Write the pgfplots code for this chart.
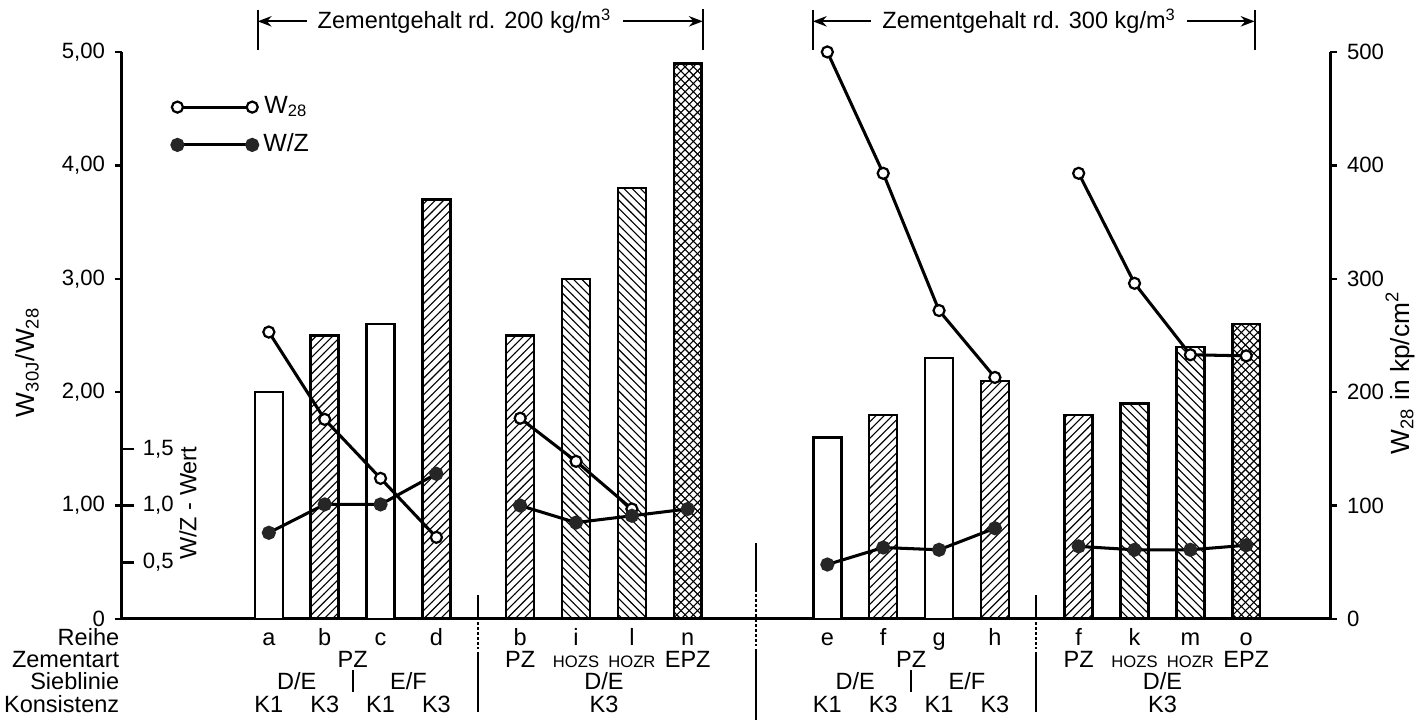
\documentclass[border=0pt]{standalone}
\usepackage{fontspec}
\setmainfont{Liberation Sans}
\usepackage{pgfplots}
\pgfplotsset{compat=1.18}
\usetikzlibrary{patterns,arrows.meta}

\newcommand{\sm}[1]{{\fontsize{6}{7}\selectfont #1}}

\begin{document}
\begin{tikzpicture}[font=\fontsize{8.5}{10}\selectfont,
  row/.style={anchor=center, text height=1.6ex, text depth=0.4ex, inner sep=1pt},
  sep/.style={line width=0.8pt}]
\useasboundingbox (-1.549,-1.372) rectangle (16.485,7.861);
\pgfplotsset{
  base/.style={
    scale only axis, width=15.342cm, height=7.201cm,
    xmin=-2.63, xmax=19.0, ymin=0,
    axis line style={line width=1.1pt,-},
    tick style={line width=0.9pt,black},
    tick align=outside, major tick length=2.6pt,
    tick label style={font=\fontsize{8}{9.6}\selectfont},
    clip=false,
  }
}
\begin{axis}[base, ymax=5,
  axis x line*=bottom, axis y line*=left,
  xtick=\empty,
  ytick={0,1,2,3,4,5},
  yticklabels={0,{1,00},{2,00},{3,00},{4,00},{5,00}},
  extra y ticks={0.5,1,1.5},
  extra y tick labels={{0,5},{1,0},{1,5}},
  extra y tick style={tick align=inside, major tick length=4.5pt,
    tick label style={anchor=west, xshift=4pt}},
  legend style={at={(axis description cs:0.034,0.942)}, anchor=north west,
    draw=none, fill=none, row sep=1.8pt, font=\fontsize{9}{10.5}\selectfont},
  legend image code/.code={\draw[#1] plot coordinates {(0cm,0cm) (0.95cm,0cm)};},
  unbounded coords=jump,
]
% Balken: offen, schraffiert /, schraffiert \, kreuzschraffiert
\addplot[ybar, bar width=0.5, bar shift=0pt, draw=black, line width=0.9pt,
  fill=white, forget plot] coordinates {(0,2.00) (2,2.60) (10,1.60) (12,2.30)};
\addplot[ybar, bar width=0.5, bar shift=0pt, draw=black, line width=0.9pt,
  pattern=north east lines, forget plot]
  coordinates {(1,2.50) (3,3.70) (4.5,2.50) (11,1.80) (13,2.10) (14.5,1.80)};
\addplot[ybar, bar width=0.5, bar shift=0pt, draw=black, line width=0.9pt,
  pattern=north west lines, forget plot]
  coordinates {(5.5,3.00) (6.5,3.80) (15.5,1.90) (16.5,2.40)};
\addplot[ybar, bar width=0.5, bar shift=0pt, draw=black, line width=0.9pt,
  pattern=crosshatch, forget plot]
  coordinates {(7.5,4.90) (17.5,2.60)};

% W28 (offene Kreise)
\addplot[line width=1.1pt, mark=*, mark size=2pt,
  mark options={solid, fill=white, draw=black, line width=0.8pt}]
  coordinates {(0,2.53) (1,1.76) (2,1.24) (3,0.72) (3.5,nan)
    (4.5,1.77) (5.5,1.39) (6.5,0.97) (8,nan)
    (10,5.00) (11,3.93) (12,2.72) (13,2.13) (13.7,nan)
    (14.5,3.93) (15.5,2.96) (16.5,2.33) (17.5,2.32)};
\addlegendentry{W\textsubscript{28}}
% W/Z (volle Kreise)
\addplot[line width=1.1pt, mark=*, mark size=2pt,
  mark options={solid, fill=black!85, draw=black!85}]
  coordinates {(0,0.76) (1,1.01) (2,1.01) (3,1.28) (3.5,nan)
    (4.5,1.00) (5.5,0.85) (6.5,0.91) (7.5,0.97) (8,nan)
    (10,0.48) (11,0.63) (12,0.61) (13,0.80) (13.7,nan)
    (14.5,0.64) (15.5,0.61) (16.5,0.61) (17.5,0.65)};
\addlegendentry{W/Z}

\node[rotate=90, anchor=center, font=\fontsize{9.5}{11}\selectfont]
  at (axis description cs:-0.0786,0.453) {W\textsubscript{30J}/W\textsubscript{28}};
\node[rotate=90, anchor=center] at (axis cs:-1.45,1.02) {W/Z - Wert};

% Zementgehalt
\draw[sep, {Stealth[length=5pt]}-{Stealth[length=5pt]}] (axis cs:-0.2,5.27) --
  node[pos=0.465, fill=white, inner xsep=4pt] {Zementgehalt rd. 200 kg/m\textsuperscript{3}}
  (axis cs:7.77,5.27);
\draw[sep] (axis cs:-0.2,5.37) -- (axis cs:-0.2,5.02);
\draw[sep] (axis cs:7.77,5.38) -- (axis cs:7.77,5.02);
\draw[sep, {Stealth[length=5pt]}-{Stealth[length=5pt]}] (axis cs:9.74,5.27) --
  node[pos=0.49, fill=white, inner xsep=4pt] {Zementgehalt rd. 300 kg/m\textsuperscript{3}}
  (axis cs:17.65,5.27);
\draw[sep] (axis cs:9.74,5.37) -- (axis cs:9.74,5.02);
\draw[sep] (axis cs:17.65,5.37) -- (axis cs:17.65,5.02);

% Trennlinien
\draw[sep] (axis cs:3.75,0.21) -- (axis cs:3.75,0);
\draw[sep, densely dotted] (axis cs:3.75,-0.03) -- (axis cs:3.75,-0.27);
\draw[sep] (axis cs:3.75,-0.29) -- (axis cs:3.75,-0.82);
\draw[sep] (axis cs:8.72,0.67) -- (axis cs:8.72,0.26);
\draw[sep, densely dotted] (axis cs:8.72,0.26) -- (axis cs:8.72,-0.28);
\draw[sep] (axis cs:8.72,-0.28) -- (axis cs:8.72,-0.89);
\draw[sep] (axis cs:13.73,0.21) -- (axis cs:13.73,0);
\draw[sep, densely dotted] (axis cs:13.73,-0.03) -- (axis cs:13.73,-0.27);
\draw[sep] (axis cs:13.73,-0.29) -- (axis cs:13.73,-0.82);
\draw[sep] (axis cs:1.5,-0.45) -- (axis cs:1.5,-0.64);
\draw[sep] (axis cs:11.5,-0.45) -- (axis cs:11.5,-0.64);

% Zeilenbeschriftung
\node[row, anchor=east] at (axis cs:-2.62,-0.159) {Reihe};
\node[row, anchor=east] at (axis cs:-2.62,-0.353) {Zementart};
\node[row, anchor=east] at (axis cs:-2.62,-0.547) {Sieblinie};
\node[row, anchor=east] at (axis cs:-2.62,-0.750) {Konsistenz};

\node[row] at (axis cs:0,-0.159) {a};
\node[row] at (axis cs:1,-0.159) {b};
\node[row] at (axis cs:2,-0.159) {c};
\node[row] at (axis cs:3,-0.159) {d};
\node[row] at (axis cs:4.5,-0.159) {b};
\node[row] at (axis cs:5.5,-0.159) {i};
\node[row] at (axis cs:6.5,-0.159) {l};
\node[row] at (axis cs:7.5,-0.159) {n};
\node[row] at (axis cs:10,-0.159) {e};
\node[row] at (axis cs:11,-0.159) {f};
\node[row] at (axis cs:12,-0.159) {g};
\node[row] at (axis cs:13,-0.159) {h};
\node[row] at (axis cs:14.5,-0.159) {f};
\node[row] at (axis cs:15.5,-0.159) {k};
\node[row] at (axis cs:16.5,-0.159) {m};
\node[row] at (axis cs:17.5,-0.159) {o};

\node[row] at (axis cs:1.5,-0.353) {PZ};
\node[row] at (axis cs:4.5,-0.353) {PZ};
\node[row] at (axis cs:5.5,-0.353) {\sm{HOZS}};
\node[row] at (axis cs:6.5,-0.353) {\sm{HOZR}};
\node[row] at (axis cs:7.5,-0.353) {EPZ};
\node[row] at (axis cs:11.5,-0.353) {PZ};
\node[row] at (axis cs:14.5,-0.353) {PZ};
\node[row] at (axis cs:15.5,-0.353) {\sm{HOZS}};
\node[row] at (axis cs:16.5,-0.353) {\sm{HOZR}};
\node[row] at (axis cs:17.5,-0.353) {EPZ};

\node[row] at (axis cs:0.5,-0.547) {D/E};
\node[row] at (axis cs:2.5,-0.547) {E/F};
\node[row] at (axis cs:6.0,-0.547) {D/E};
\node[row] at (axis cs:10.5,-0.547) {D/E};
\node[row] at (axis cs:12.5,-0.547) {E/F};
\node[row] at (axis cs:16.0,-0.547) {D/E};

\node[row] at (axis cs:0,-0.75) {K1};
\node[row] at (axis cs:1,-0.75) {K3};
\node[row] at (axis cs:2,-0.75) {K1};
\node[row] at (axis cs:3,-0.75) {K3};
\node[row] at (axis cs:6.0,-0.75) {K3};
\node[row] at (axis cs:10,-0.75) {K1};
\node[row] at (axis cs:11,-0.75) {K3};
\node[row] at (axis cs:12,-0.75) {K1};
\node[row] at (axis cs:13,-0.75) {K3};
\node[row] at (axis cs:16.0,-0.75) {K3};
\end{axis}

\begin{axis}[base, ymax=500,
  axis y line*=right, axis x line=none,
  ytick={0,100,200,300,400,500},
  yticklabels={0,100,200,300,400,500},
]
\node[rotate=90, anchor=center, font=\fontsize{9.5}{11}\selectfont]
  at (axis description cs:1.058,0.434) {W\textsubscript{28} in kp/cm\textsuperscript{2}};
\end{axis}
\end{tikzpicture}
\end{document}
